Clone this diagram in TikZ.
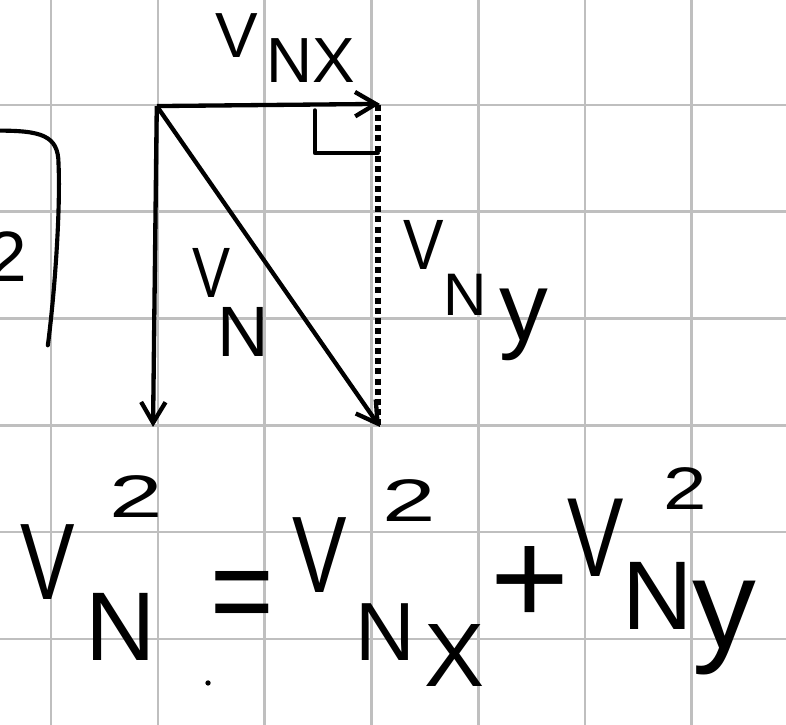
\documentclass[tikz,border=0pt]{standalone}
\usepackage{fontspec}
\setmainfont{Liberation Sans}
\usepackage{graphicx}
\usepackage{tikz}
\usetikzlibrary{arrows.meta}

\newcommand{\fs}[1]{\fontsize{#1}{#1}\selectfont}
\newcommand{\hv}[1][0.75]{\scalebox{#1}[1]{V}}
\newcommand{\wide}[2]{\scalebox{#1}[1]{#2}}

\begin{document}
\begin{tikzpicture}[
    gridline/.style={draw=black!25, line width=0.7pt},
    vec/.style={draw, line width=1.15pt, -{Straight Barb[length=5.5pt,width=6.5pt]}},
    comp/.style={draw, line width=1.5pt, dash pattern=on 1.6pt off 1.1pt},
    ink/.style={draw, line width=1.1pt, line cap=round, line join=round},
    lbl/.style={inner sep=0pt, anchor=base west},
]

\useasboundingbox (-0.478,-0.805) rectangle (6.882,5.983);
\clip (-0.478,-0.805) rectangle (6.882,5.983);

% -------------------------
% squared paper
% -------------------------
\draw[gridline] (-0.478,-0.805) grid (6.882,5.983);

% -------------------------
% vector triangle
% -------------------------
\coordinate (o)    at (0.99,4.99);
\coordinate (tipX) at (3.08,5.01);
\coordinate (tipD) at (0.955,1.985);
\coordinate (tipN) at (3.08,1.985);
\coordinate (topY) at (3.06,5.00);
\coordinate (botY) at (3.06,2.00);

\draw[vec] (o) -- (tipX);
\draw[vec] (o) -- (tipD);
\draw[vec] (o) -- (tipN);
\draw[comp] (topY) -- (botY);

% right angle mark
\draw[ink] (2.47,4.95) |- (3.06,4.55);

% labels
\node[lbl] (lblX) at (1.536,5.449) {\fs{17}V\hspace{2.2pt}\raisebox{-6.7pt}{NX}};
\node[lbl] (lblN) at (1.320,3.193) {\fs{19}\hv[0.8]\kern-3.5pt\raisebox{-15.7pt}{N}};
\node[lbl] (lblY) at (3.296,3.455) {\fs{19}\hv[0.85]\kern-0.2pt\raisebox{-12pt}{\fs{16}N\hspace{3.5pt}\raisebox{-6.7pt}{\fs{26}y}}};

% -------------------------
% left edge (cut off)
% -------------------------
\draw[ink] (-0.5,4.76) .. controls (-0.1,4.76) and (0.07,4.72) .. (0.07,4.45)
           .. controls (0.09,4.0) and (0.03,3.2) .. (-0.03,2.75);
\node[inner sep=0pt, anchor=base east] (two) at (-0.215,3.343) {\fs{19}2};

% -------------------------
% Pythagoras
% -------------------------
\node[lbl] (eqLeft) at (-0.290,0.365)
  {\fs{29}\hv\rlap{\hspace{9pt}\raisebox{22pt}{\fs{16}\wide{1.6}{2}}}\kern2.8pt\raisebox{-16pt}{\fs{26}N}};
\node[lbl] (eqEq) at (1.489,0.028) {\fs{29}\scalebox{1}[1.2]{=}};
\node[lbl] (eqX) at (2.257,0.431)
  {\fs{29}\hv\rlap{\hspace{9.4pt}\raisebox{19pt}{\fs{16}\wide{1.6}{2}}}\kern2.3pt\raisebox{-17.9pt}{\fs{22}N\hspace{2.5pt}\raisebox{-7.1pt}{\fs{24}X}}};
\node[lbl] (eqPlus) at (4.11,0.131) {\fs{36}+};
\node[lbl] (eqY) at (4.831,0.581)
  {\fs{30}\hv\rlap{\hspace{10.6pt}\raisebox{17.9pt}{\fs{16}\wide{1.3}{2}}}\kern-0.5pt\raisebox{-14pt}{\fs{26}N\raisebox{-5.2pt}{\fs{34}y}}};

\fill (1.470,-0.412) circle (0.025);

\end{tikzpicture}
\end{document}
